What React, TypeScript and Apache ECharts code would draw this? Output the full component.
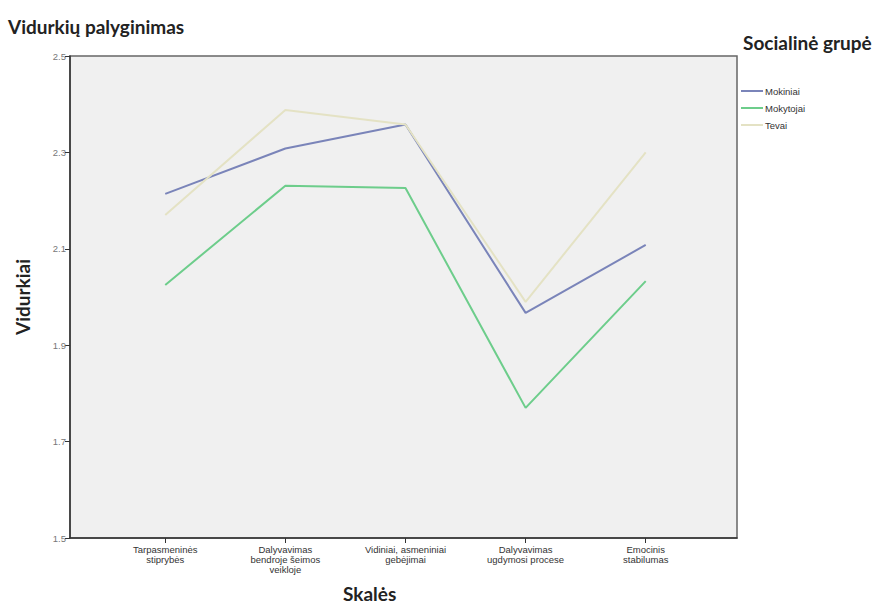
import React, { useEffect, useRef } from "react";
import * as echarts from "echarts";

const categories = [
  "Tarpasmeninės\nstiprybės",
  "Dalyvavimas\nbendroje šeimos\nveikloje",
  "Vidiniai, asmeniniai\ngebėjimai",
  "Dalyvavimas\nugdymosi procese",
  "Emocinis\nstabilumas",
];
const mokiniai = [2.214, 2.308, 2.358, 1.967, 2.108];
const mokytojai = [2.025, 2.231, 2.226, 1.77, 2.033];
const tevai = [2.17, 2.388, 2.358, 1.99, 2.3];
const seriesNames = ["Mokiniai", "Mokytojai", "Tevai"];
const seriesColors = ["#7a84b9", "#6dcd8b", "#e4e2c4"];
const yMin = 1.5;
const yMax = 2.5;
const yStep = 0.2;

export default function App() {
  const ref = useRef<HTMLDivElement>(null);
  useEffect(() => {
    if (!ref.current) return;
    const chart = echarts.init(ref.current, null, { renderer: "svg" });
    const all = [mokiniai, mokytojai, tevai];
    const idx = categories.map((_, i) => i);
    const titleFont = { fontFamily: "Lato", fontWeight: "bold", fontSize: 19 };
    chart.setOption({
      animation: false,
      backgroundColor: "#ffffff",
      title: {
        text: "Vidurkių palyginimas",
        left: 3,
        top: 12,
        textStyle: { ...titleFont, color: "#222" },
      },
      legend: {
        orient: "vertical",
        left: 736,
        top: 81,
        itemWidth: 22,
        itemHeight: 2,
        itemGap: 7,
        icon: "rect",
        data: seriesNames,
        textStyle: { fontFamily: "Liberation Sans", fontSize: 9.5, color: "#333", padding: [0, 0, 0, -3] },
      },
      grid: {
        left: 70,
        right: 158,
        top: 56,
        bottom: 72,
        show: true,
        backgroundColor: "#f0f0f0",
        borderColor: "#666",
        borderWidth: 1.5,
        outerBoundsMode: "none",
        containLabel: false,
      },
      xAxis: {
        type: "value",
        min: -0.793,
        max: 4.76,
        axisLine: { show: true, onZero: false, lineStyle: { color: "#333", width: 1.5 } },
        axisTick: { show: true, customValues: idx, length: 5, lineStyle: { color: "#333" } },
        splitLine: { show: false },
        axisLabel: {
          customValues: idx,
          formatter: (v: number) => categories[Math.round(v)],
          fontFamily: "Liberation Sans",
          fontSize: 9.5,
          lineHeight: 10,
          color: "#333",
          margin: 6,
        },
      },
      yAxis: {
        type: "value",
        min: yMin,
        max: yMax,
        interval: yStep,
        name: "Vidurkiai",
        nameLocation: "middle",
        nameRotate: 90,
        nameGap: 38,
        nameTextStyle: { ...titleFont, color: "#222" },
        axisLine: { show: true, onZero: false, lineStyle: { color: "#333", width: 1.5 } },
        axisTick: { show: true, length: 5, lineStyle: { color: "#333" } },
        splitLine: { show: false },
        axisLabel: {
          formatter: (v: number) => v.toFixed(1),
          fontFamily: "Liberation Sans",
          fontSize: 9.5,
          color: "#777",
          margin: 4,
        },
      },
      graphic: [
        {
          type: "text",
          left: 743,
          top: 33,
          style: { text: "Socialinė grupė", ...titleFont, fill: "#222" },
        },
        {
          type: "text",
          left: 343,
          top: 584,
          style: { text: "Skalės", ...titleFont, fill: "#222" },
        },
      ],
      series: all.map((vals, s) => ({
        name: seriesNames[s],
        type: "line",
        data: vals.map((v, i) => [i, v]),
        symbol: "none",
        color: seriesColors[s],
        lineStyle: { width: 2, color: seriesColors[s] },
      })),
    });
    return () => chart.dispose();
  }, []);
  return <div ref={ref} style={{ width: 895, height: 610, position: "absolute", left: 0, top: 0 }} />;
}
